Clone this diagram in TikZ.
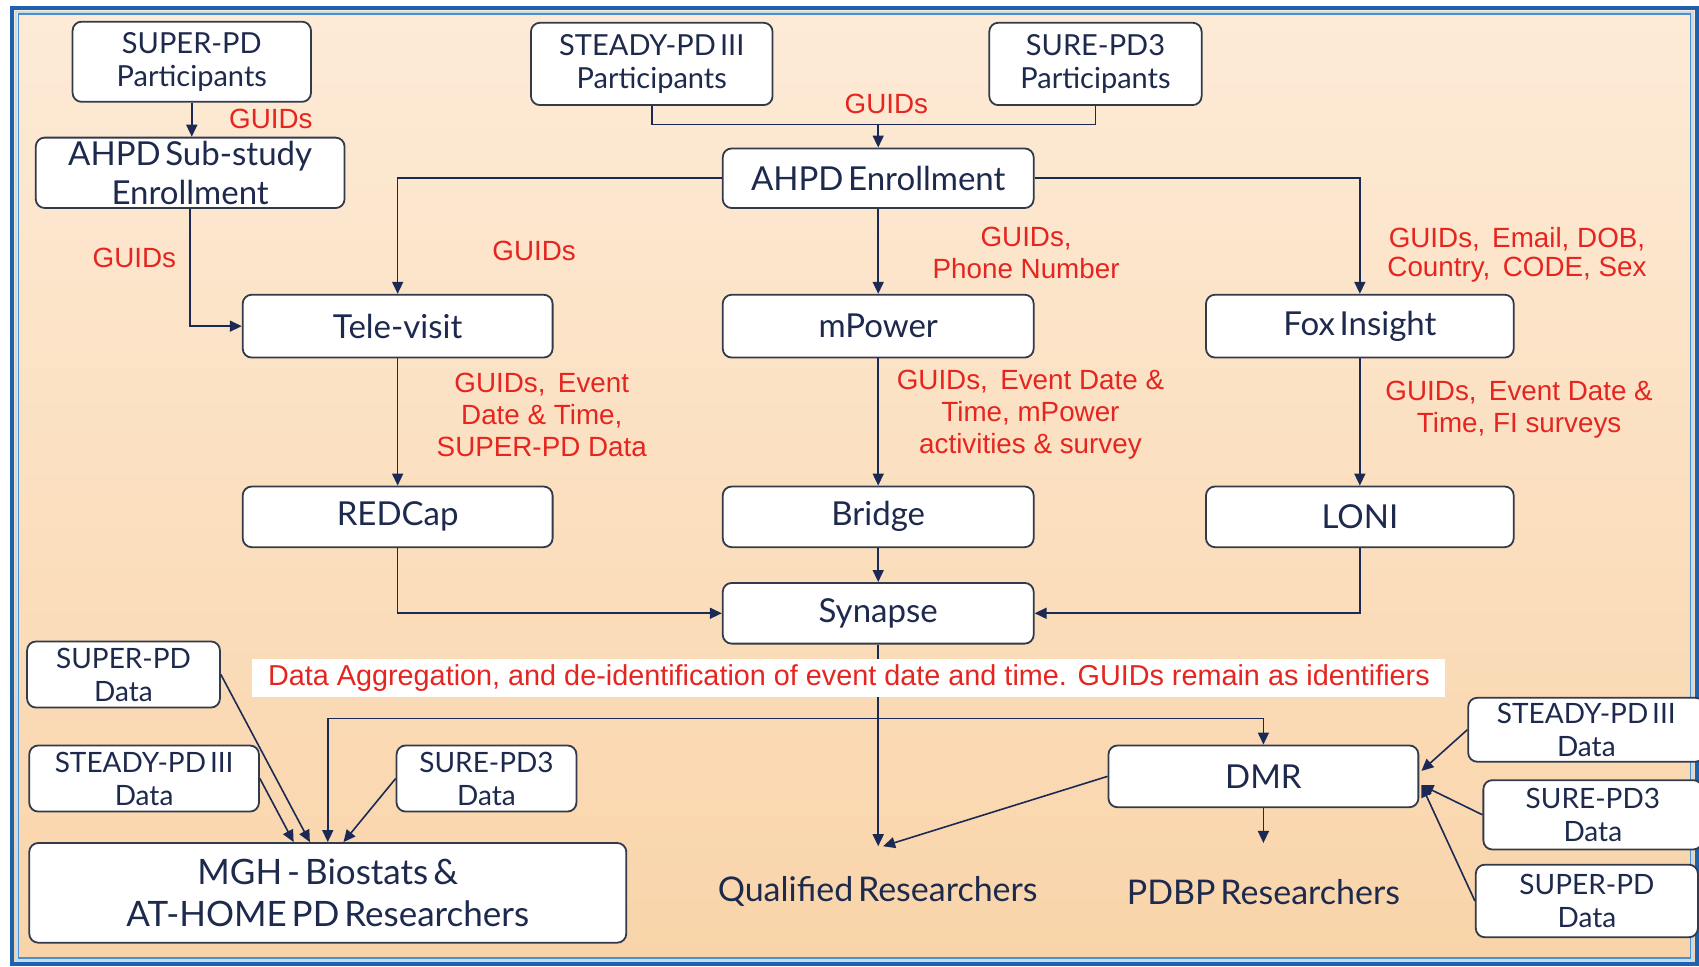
\documentclass[tikz,border=0pt]{standalone}
\usepackage{fontspec}
\setmainfont{Liberation Sans}
\newfontfamily\lato[WordSpace=0.55]{Lato}
\newfontfamily\arialr{Liberation Sans}
\usetikzlibrary{arrows.meta,calc}
\newdimen\px \px=0.54175pt
\definecolor{navy}{HTML}{1E2A4D}
\definecolor{arrc}{HTML}{1B2A55}
\definecolor{boxline}{HTML}{333A4A}
\definecolor{redt}{HTML}{E5251F}
\definecolor{bgtop}{HTML}{FDEBD7}
\definecolor{bgbot}{HTML}{F9D4A9}
\definecolor{frameblue}{HTML}{1D62AC}
\definecolor{framemid}{HTML}{4D8FCC}
\definecolor{framelight}{HTML}{C4DCF0}
\begin{document}
\begin{tikzpicture}[x=0.54175pt,y=-0.54175pt,
  box/.style={draw=boxline, line width=0.9pt, fill=white, rounded corners=4.5pt, align=center, text=navy, inner sep=0pt},
  big/.style={box, font=\lato\fontsize{16.5}{19.5}\selectfont},
  huge/.style={box, font=\lato\fontsize{17.5}{21}\selectfont},
  mid/.style={box, font=\lato\fontsize{14.5}{16.5}\selectfont},
  small/.style={box, font=\lato\fontsize{14}{16.5}\selectfont},
  plain/.style={text=navy, inner sep=0pt, font=\lato\fontsize{17}{20}\selectfont},
  lbl/.style={text=redt, align=center, inner sep=0pt, font=\arialr\fontsize{13.9}{16}\selectfont},
  ln/.style={draw=arrc, line width=0.8pt},
  arr/.style={ln, -{Triangle[length=6pt,width=5.5pt]}}
]
\useasboundingbox (0,0) rectangle (1568,892);
\clip (0,0) rectangle (1568,892);
\fill[white] (0,0) rectangle (1568,892);
% background and frame
\shade[top color=bgtop, bottom color=bgbot] (12,9) rectangle (1564,888);
\draw[frameblue, line width=4\px] (11,7.5) rectangle (1566,889.5);
\draw[framelight, line width=2\px] (14.5,11) rectangle (1562,886);
\draw[framemid, line width=1.5\px] (17,13) rectangle (1560,884);

% nodes
\node[mid, minimum width=220\px, minimum height=74\px] (sp) at (177,57) {SUPER-PD\\Participants};
\node[big, minimum width=285\px, minimum height=65\px] (ahsub) at (175.5,159.5) {AHPD Sub-study\\Enrollment};
\node[mid, minimum width=223\px, minimum height=76\px] (steady) at (601.5,59) {STEADY-PD III\\Participants};
\node[mid, minimum width=196\px, minimum height=76\px] (sure) at (1011,59) {SURE-PD3\\Participants};
\node[big, minimum width=287\px, minimum height=55\px] (ahpd) at (810.5,164.5) {AHPD Enrollment};
\node[big, minimum width=286\px, minimum height=58\px] (tele) at (367,301) {Tele-visit};
\node[big, minimum width=287\px, minimum height=58\px] (mpower) at (810.5,301) {mPower};
\node[big, minimum width=284\px, minimum height=58\px] (fox) at (1255,301) {Fox Insight};
\node[big, minimum width=286\px, minimum height=56\px] (redcap) at (367,477) {REDCap};
\node[big, minimum width=287\px, minimum height=56\px] (bridge) at (810.5,477) {Bridge};
\node[big, minimum width=284\px, minimum height=56\px] (loni) at (1255,477) {LONI};
\node[big, minimum width=287\px, minimum height=56\px] (synapse) at (810.5,566) {Synapse};
\node[big, minimum width=286\px, minimum height=57\px] (dmr) at (1166,716.5) {DMR};
\node[huge, minimum width=551\px, minimum height=92\px] (mgh) at (302.5,824) {MGH - Biostats \&\\AT-HOME PD Researchers};
\node[small, minimum width=178\px, minimum height=61\px] (spdL) at (114,622.5) {SUPER-PD\\Data};
\node[small, minimum width=212\px, minimum height=61\px] (stdL) at (133,718.5) {STEADY-PD III\\Data};
\node[small, minimum width=166\px, minimum height=61\px] (surL) at (449,718.5) {SURE-PD3\\Data};
\node[small, minimum width=218\px, minimum height=59\px] (stdR) at (1464,673.5) {STEADY-PD III\\Data};
\node[small, minimum width=202\px, minimum height=64\px] (surR) at (1470,752) {SURE-PD3\\Data};
\node[small, minimum width=205\px, minimum height=67\px] (supR) at (1464.5,831.5) {SUPER-PD\\Data};
\node[plain] (qual) at (810,823) {Qualified Researchers};
\node[plain] (pdbp) at (1166,823) {PDBP Researchers};

% red labels
\node[lbl] (g1) at (250,110) {GUIDs};
\node[lbl] (g2) at (818,96) {GUIDs};
\node[lbl] (g3) at (124,238) {GUIDs};
\node[lbl] (g4) at (493,232) {GUIDs};
\node[lbl] (g5) at (947,233.5) {GUIDs,\\Phone Number};
\node[lbl, font=\arialr\fontsize{13.9}{14.6}\selectfont] (g6) at (1400,235) {GUIDs,\, Email, DOB,\\Country,\, CODE, Sex};
\node[lbl] (g7) at (500,383) {GUIDs,\, Event\\Date \& Time,\\SUPER-PD Data};
\node[lbl] (g8) at (951,383) {GUIDs,\, Event Date \&\\Time, mPower\\activities \& survey};
\node[lbl] (g9) at (1402,378) {GUIDs,\, Event Date \&\\Time, FI surveys};

% coordinates
\coordinate (m1) at (810.5,115);
\coordinate (hL) at (302.5,663);
\coordinate (qtip) at (810.5,781);
\coordinate (qtip2) at (815,781);
\coordinate (ptip) at (1166,778);

% connectors
\draw[arr] (sp.south) -- (sp.south |- ahsub.north);
\draw[ln] (steady.south) -- (steady.south |- m1) -- (sure.south |- m1) -- (sure.south);
\draw[arr] (m1) -- (ahpd.north);
\draw[arr] (ahpd.west) -| (tele.north);
\draw[arr] (ahpd.east) -| (fox.north);
\draw[arr] (ahpd.south) -- (mpower.north);
\draw[arr] (ahsub.south) |- (tele.west);
\draw[arr] (tele.south) -- (redcap.north);
\draw[arr] (mpower.south) -- (bridge.north);
\draw[arr] (fox.south) -- (loni.north);
\draw[arr] (bridge.south) -- (synapse.north);
\draw[arr] (redcap.south) |- (synapse.west);
\draw[arr] (loni.south) |- (synapse.east);
\draw[arr] (synapse.south) -- (qtip);
\draw[arr] (dmr.west) -- (qtip2);
\draw[arr] (dmr.south) -- (ptip);
\draw[arr] (hL) -- (hL |- mgh.north);
\draw[arr] (hL) -| (dmr.north);
\draw[arr] (stdL.east) -- ($(mgh.north)+(-31.5,0)$);
\draw[arr] (spdL.east) -- ($(mgh.north)+(-16.5,0)$);
\draw[arr] (surL.west) -- ($(mgh.north)+(14.5,0)$);
\draw[arr] (stdR.west) -- ($(dmr.east)+(2,-5)$);
\draw[arr] (surR.west) -- ($(dmr.east)+(2,8)$);
\draw[arr] (supR.west) -- ($(dmr.east)+(2,8)$);

% aggregation label on top of the vertical line
\node[lbl, font=\arialr\fontsize{14.4}{16}\selectfont, fill=white, minimum width=1101\px, minimum height=35\px] (agg) at (783.5,625.5) {Data Aggregation, and de-identification of event date and time. GUIDs remain as identifiers};
\end{tikzpicture}
\end{document}
